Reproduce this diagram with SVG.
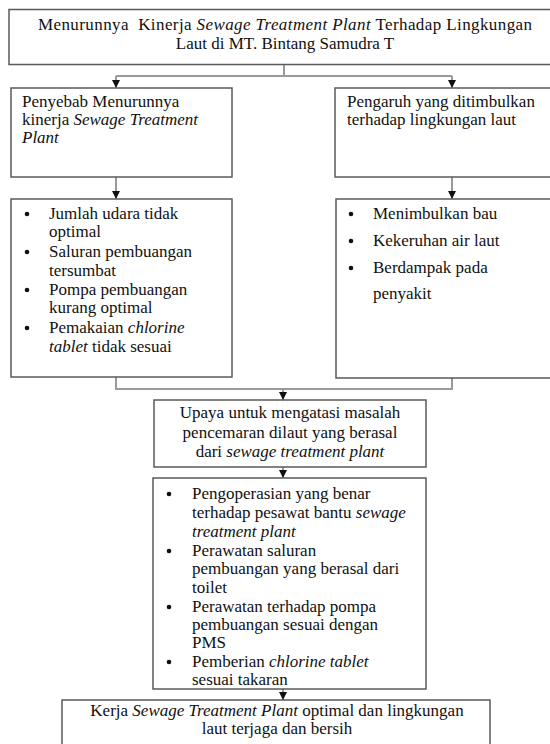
<svg xmlns="http://www.w3.org/2000/svg" width="550" height="744" viewBox="0 0 550 744">
<style>
.box{fill:#fff;stroke:#5a5a5a;stroke-width:1.5}
.con{fill:none;stroke:#9a9a9a;stroke-width:2}
text{font-family:"Liberation Serif","Times New Roman",serif;font-size:17px;fill:#111}
.i{font-style:italic}
.c{text-anchor:middle}
.b{fill:#111}
</style>
<defs>
<marker id="ah" viewBox="0 0 10 10" refX="10" refY="5" markerWidth="8" markerHeight="8" markerUnits="userSpaceOnUse" orient="auto">
<path d="M0,0 L10,5 L0,10 z" fill="#111"/>
</marker>
</defs>
<rect width="550" height="744" fill="#fff"/>
<g id="connectors">
<path class="con" d="M284,64 V76 M116,76 H452"/>
<path class="con" d="M116,76 V88" marker-end="url(#ah)"/>
<path class="con" d="M452,76 V88" marker-end="url(#ah)"/>
<path class="con" d="M116,177 V199" marker-end="url(#ah)"/>
<path class="con" d="M452,177 V199" marker-end="url(#ah)"/>
<path class="con" d="M116,377 V389 H452 V378"/>
<path class="con" d="M283,389 V400" marker-end="url(#ah)"/>
<path class="con" d="M283,467 V478" marker-end="url(#ah)"/>
<path class="con" d="M283,689 V700" marker-end="url(#ah)"/>
</g>
<g id="title">
<rect class="box" x="9" y="9.5" width="560" height="55"/>
<text class="c" x="285" y="30" textLength="494" lengthAdjust="spacing">Menurunnya&#160; Kinerja <tspan class="i">Sewage Treatment Plant</tspan> Terhadap Lingkungan</text>
<text class="c" x="285" y="49">Laut di MT. Bintang Samudra T</text>
</g>
<g id="penyebab">
<rect class="box" x="11" y="88" width="221" height="89"/>
<text x="22" y="107">Penyebab Menurunnya</text>
<text x="22" y="125">kinerja <tspan class="i">Sewage Treatment</tspan></text>
<text x="22" y="143" class="i">Plant</text>
</g>
<g id="pengaruh">
<rect class="box" x="335" y="88" width="240" height="89"/>
<text x="347" y="107">Pengaruh yang ditimbulkan</text>
<text x="347" y="125">terhadap lingkungan laut</text>
</g>
<g id="penyebab-list">
<rect class="box" x="11" y="199" width="221" height="178"/>
<circle class="b" cx="27" cy="214" r="2.3"/><text x="49" y="219">Jumlah udara tidak</text>
<text x="49" y="237">optimal</text>
<circle class="b" cx="27" cy="252" r="2.3"/><text x="49" y="257">Saluran pembuangan</text>
<text x="49" y="276">tersumbat</text>
<circle class="b" cx="27" cy="290" r="2.3"/><text x="49" y="295">Pompa pembuangan</text>
<text x="49" y="313">kurang optimal</text>
<circle class="b" cx="27" cy="328" r="2.3"/><text x="49" y="333">Pemakaian <tspan class="i">chlorine</tspan></text>
<text x="49" y="352"><tspan class="i">tablet</tspan> tidak sesuai</text>
</g>
<g id="pengaruh-list">
<rect class="box" x="336" y="199" width="240" height="179"/>
<circle class="b" cx="351" cy="214" r="2.3"/><text x="373" y="219">Menimbulkan bau</text>
<circle class="b" cx="351" cy="241" r="2.3"/><text x="373" y="246">Kekeruhan air laut</text>
<circle class="b" cx="351" cy="268" r="2.3"/><text x="373" y="273">Berdampak pada</text>
<text x="373" y="299">penyakit</text>
</g>
<g id="upaya">
<rect class="box" x="154" y="400" width="272" height="67"/>
<text class="c" x="290" y="418">Upaya untuk mengatasi masalah</text>
<text class="c" x="290" y="438">pencemaran dilaut yang berasal</text>
<text class="c" x="290" y="457">dari <tspan class="i">sewage treatment plant</tspan></text>
</g>
<g id="upaya-list">
<rect class="box" x="153" y="478" width="273" height="211"/>
<circle class="b" cx="169" cy="494" r="2.3"/><text x="192" y="499">Pengoperasian yang benar</text>
<text x="192" y="518">terhadap pesawat bantu <tspan class="i">sewage</tspan></text>
<text x="192" y="537" class="i">treatment plant</text>
<circle class="b" cx="169" cy="551" r="2.3"/><text x="192" y="556">Perawatan saluran</text>
<text x="192" y="574">pembuangan yang berasal dari</text>
<text x="192" y="593">toilet</text>
<circle class="b" cx="169" cy="607" r="2.3"/><text x="192" y="612">Perawatan terhadap pompa</text>
<text x="192" y="630">pembuangan sesuai dengan</text>
<text x="192" y="648">PMS</text>
<circle class="b" cx="169" cy="662" r="2.3"/><text x="192" y="667">Pemberian <tspan class="i">chlorine tablet</tspan></text>
<text x="192" y="685">sesuai takaran</text>
</g>
<g id="hasil">
<rect class="box" x="62" y="700" width="428" height="60"/>
<text class="c" x="277" y="716">Kerja <tspan class="i">Sewage Treatment Plant</tspan> optimal dan lingkungan</text>
<text class="c" x="277" y="734">laut terjaga dan bersih</text>
</g>
</svg>
